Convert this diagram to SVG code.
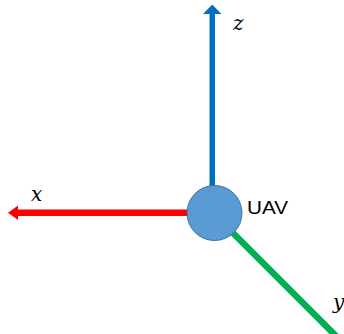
<svg xmlns="http://www.w3.org/2000/svg" width="344" height="334" viewBox="0 0 344 334">
<style>
.lbl{font-family:"Cambria Math","DejaVu Serif","Liberation Serif",serif;font-style:italic;font-size:20px;fill:#000}
.uav{font-family:"Liberation Sans",Arial,sans-serif;font-size:18px;fill:#000}
</style>
<rect width="344" height="334" fill="#fff"/>
<g id="connectors">
<g id="axis-z">
<rect x="209.5" y="13" width="5.5" height="175" fill="#0070C0"/>
<polygon points="212.2,4.5 221.5,14 203,14" fill="#0070C0"/>
</g>
<g id="axis-x">
<rect x="17" y="209.5" width="175" height="6.5" fill="#FF0000"/>
<polygon points="8,212.7 18,205.5 18,220" fill="#FF0000"/>
</g>
<g id="axis-y">
<line x1="228" y1="228" x2="337" y2="337" stroke="#00B050" stroke-width="6.5"/>
</g>
</g>
<g id="uav">
<circle cx="214.5" cy="213" r="27.5" fill="#5B9BD5" stroke="#41719C" stroke-width="1"/>
<text class="uav" x="247" y="214" textLength="41" lengthAdjust="spacingAndGlyphs">UAV</text>
</g>
<text class="lbl" x="233" y="30">z</text>
<text class="lbl" x="31" y="201">x</text>
<text class="lbl" x="333" y="309">y</text>
</svg>
